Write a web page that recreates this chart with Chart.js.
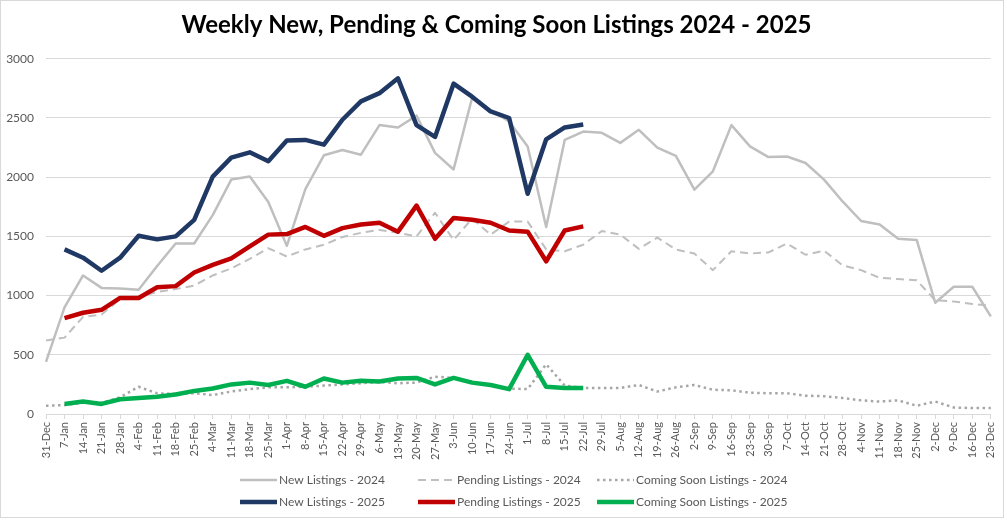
<!DOCTYPE html>
<html>
<head>
<meta charset="utf-8">
<script src="https://cdn.jsdelivr.net/npm/chart.js@4.4.1/dist/chart.umd.min.js"></script>
<style>
  html, body { margin: 0; padding: 0; background: #fff; }
</style>
</head>
<body>
<canvas id="listings" width="1007" height="521"></canvas>
<script>
const weeks = ['31-Dec', '7-Jan', '14-Jan', '21-Jan', '28-Jan', '4-Feb', '11-Feb', '18-Feb', '25-Feb',
  '4-Mar', '11-Mar', '18-Mar', '25-Mar', '1-Apr', '8-Apr', '15-Apr', '22-Apr', '29-Apr', '6-May',
  '13-May', '20-May', '27-May', '3-Jun', '10-Jun', '17-Jun', '24-Jun', '1-Jul', '8-Jul', '15-Jul',
  '22-Jul', '29-Jul', '5-Aug', '12-Aug', '19-Aug', '26-Aug', '2-Sep', '9-Sep', '16-Sep', '23-Sep',
  '30-Sep', '7-Oct', '14-Oct', '21-Oct', '28-Oct', '4-Nov', '11-Nov', '18-Nov', '25-Nov', '2-Dec',
  '9-Dec', '16-Dec', '23-Dec'];

const yTicks = [0, 500, 1000, 1500, 2000, 2500, 3000];

const newListings2024 = [440, 900, 1170, 1065, 1060, 1050, 1250, 1440, 1440, 1680, 1980, 2005, 1790,
  1420, 1900, 2185, 2230, 2190, 2440, 2420, 2520, 2205, 2065, 2670, 2565, 2470, 2260, 1580, 2315,
  2385, 2375, 2290, 2400, 2250, 2180, 1895, 2050, 2440, 2260, 2170, 2175, 2120, 1980, 1795, 1630,
  1600, 1480, 1470, 940, 1075, 1075, 825];
const pending2024 = [620, 645, 820, 840, 970, 990, 1030, 1055, 1085, 1170, 1230, 1310, 1400, 1330,
  1390, 1430, 1495, 1530, 1555, 1530, 1500, 1700, 1470, 1650, 1515, 1625, 1625, 1390, 1375, 1430,
  1545, 1515, 1395, 1490, 1390, 1355, 1215, 1375, 1355, 1365, 1440, 1345, 1380, 1255, 1215, 1150,
  1140, 1130, 960, 950, 930, 915];
const comingSoon2024 = [70, 75, 95, 95, 140, 230, 175, 170, 175, 160, 190, 210, 225, 225, 230, 240,
  250, 260, 270, 260, 265, 315, 305, 270, 240, 215, 210, 420, 240, 220, 220, 220, 245, 190, 225, 245,
  205, 200, 180, 175, 175, 155, 150, 135, 115, 105, 115, 70, 105, 55, 50, 50];

const newListings2025 = [null, 1390, 1320, 1210, 1320, 1505, 1475, 1500, 1640, 2005, 2165, 2210, 2135,
  2310, 2315, 2275, 2485, 2640, 2710, 2835, 2440, 2340, 2790, 2680, 2555, 2500, 1860, 2320, 2420, 2445];
const pending2025 = [null, 810, 855, 880, 980, 980, 1070, 1080, 1195, 1260, 1315, 1415, 1515, 1520,
  1580, 1505, 1570, 1600, 1615, 1540, 1760, 1480, 1655, 1640, 1615, 1550, 1540, 1290, 1550, 1585];
const comingSoon2025 = [null, 85, 105, 85, 125, 135, 145, 165, 195, 215, 250, 265, 245, 280, 230, 300,
  265, 280, 275, 300, 305, 250, 305, 265, 245, 210, 500, 230, 220, 220];

const FONT = 'Lato, "Open Sans", sans-serif';
const TEXT = '#595959';

// excel style legend: 3 columns, 2 rows, plus the thin outer frame
const legendRows = {
  id: 'legendRows',
  afterDraw (chart) {
    const ctx = chart.ctx;
    const cols = [240, 418, 597];
    const rows = [480, 502];
    ctx.save();
    chart.data.datasets.forEach((ds, i) => {
      const x = cols[i % 3];
      const y = rows[Math.floor(i / 3)];
      ctx.beginPath();
      ctx.setLineDash(ds.borderDash || []);
      ctx.lineCap = ds.borderCapStyle || 'butt';
      ctx.lineWidth = ds.borderWidth;
      ctx.strokeStyle = ds.borderColor;
      ctx.moveTo(x, y);
      ctx.lineTo(x + 37, y);
      ctx.stroke();
      ctx.setLineDash([]);
      ctx.fillStyle = TEXT;
      ctx.font = '12px ' + FONT;
      ctx.textBaseline = 'middle';
      ctx.fillText(ds.label, x + 39, y);
    });
    ctx.strokeStyle = '#d9d9d9';
    ctx.lineWidth = 1;
    ctx.strokeRect(0.5, 0.5, 1003, 517);
    ctx.restore();
  }
};

function series (label, data, color, width, dash, order) {
  return {
    label,
    data,
    borderColor: color,
    backgroundColor: color,
    borderWidth: width,
    borderDash: dash,
    borderCapStyle: 'butt',
    borderJoinStyle: 'round',
    pointRadius: 0,
    tension: 0,
    fill: false,
    order
  };
}

new Chart(document.getElementById('listings'), {
  type: 'line',
  data: {
    labels: weeks,
    datasets: [
      series('New Listings - 2024', newListings2024, '#bfbfbf', 2.5, [], 1),
      series('Pending Listings - 2024', pending2024, '#bfbfbf', 2, [8, 5], 1),
      series('Coming Soon Listings - 2024', comingSoon2024, '#a6a6a6', 2.5, [2.5, 3.5], 1),
      series('New Listings - 2025', newListings2025, '#203864', 4.5, [], 0),
      series('Pending Listings - 2025', pending2025, '#c00000', 4.5, [], 0),
      series('Coming Soon Listings - 2025', comingSoon2025, '#00b050', 4.5, [], 0)
    ]
  },
  options: {
    responsive: false,
    animation: false,
    layout: {
      padding: { left: 2, right: 16, bottom: 57 }
    },
    plugins: {
      legend: { display: false },
      tooltip: { enabled: false },
      title: {
        display: true,
        text: 'Weekly New, Pending & Coming Soon Listings 2024 - 2025',
        color: '#000',
        font: { family: FONT, size: 24, weight: 'bold' },
        padding: { top: 11, bottom: 19 }
      }
    },
    scales: {
      x: {
        offset: false,
        afterFit (scale) { scale.height = 50; },
        grid: {
          drawOnChartArea: false,
          color: '#d9d9d9',
          tickLength: 5
        },
        border: { color: '#d9d9d9' },
        ticks: {
          autoSkip: false,
          minRotation: 90,
          maxRotation: 90,
          padding: 3,
          color: TEXT,
          font: { family: FONT, size: 11 }
        }
      },
      y: {
        min: 0,
        max: 3000,
        afterFit (scale) { scale.width = 44; },
        afterBuildTicks (scale) { scale.ticks = yTicks.map(v => ({ value: v })); },
        grid: { color: '#d9d9d9', drawTicks: false },
        border: { display: false },
        ticks: {
          padding: 12,
          color: TEXT,
          font: { family: FONT, size: 12 },
          callback: v => String(v)
        }
      }
    }
  },
  plugins: [legendRows]
});
</script>
</body>
</html>
